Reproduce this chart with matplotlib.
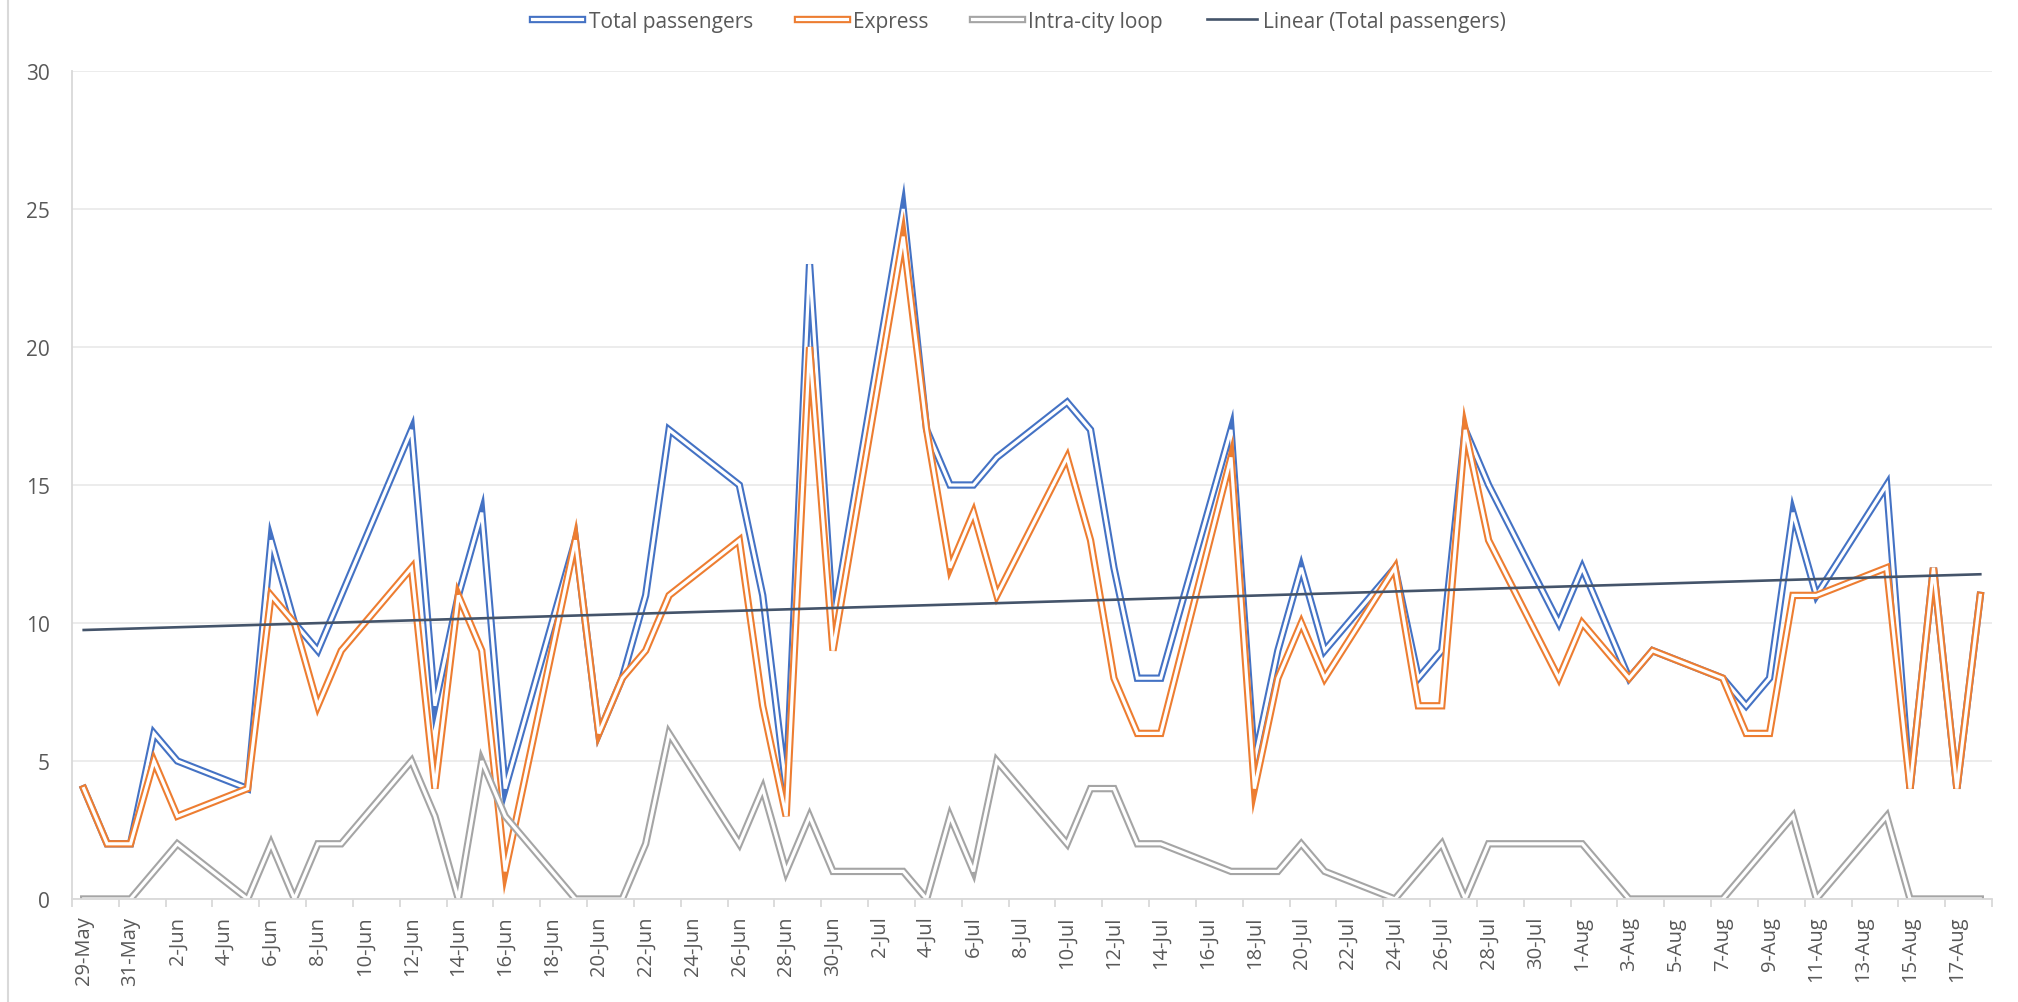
import matplotlib
matplotlib.use('Agg')
import matplotlib.pyplot as plt
import matplotlib.dates as mdates
import matplotlib.patheffects as pe
from matplotlib.lines import Line2D
from matplotlib.ticker import FuncFormatter
import numpy as np
import pandas as pd

# daily counts (weekdays only)
dates = ['2017-05-29', '2017-05-30', '2017-05-31', '2017-06-01', '2017-06-02',
         '2017-06-05', '2017-06-06', '2017-06-07', '2017-06-08', '2017-06-09',
         '2017-06-12', '2017-06-13', '2017-06-14', '2017-06-15', '2017-06-16',
         '2017-06-19', '2017-06-20', '2017-06-21', '2017-06-22', '2017-06-23',
         '2017-06-26', '2017-06-27', '2017-06-28', '2017-06-29', '2017-06-30',
         '2017-07-03', '2017-07-04', '2017-07-05', '2017-07-06', '2017-07-07',
         '2017-07-10', '2017-07-11', '2017-07-12', '2017-07-13', '2017-07-14',
         '2017-07-17', '2017-07-18', '2017-07-19', '2017-07-20', '2017-07-21',
         '2017-07-24', '2017-07-25', '2017-07-26', '2017-07-27', '2017-07-28',
         '2017-07-31', '2017-08-01', '2017-08-03', '2017-08-04',
         '2017-08-07', '2017-08-08', '2017-08-09', '2017-08-10', '2017-08-11',
         '2017-08-14', '2017-08-15', '2017-08-16', '2017-08-17', '2017-08-18']

total = [4, 2, 2, 6, 5,
         4, 13, 10, 9, 11,
         17, 7, 11, 14, 4,
         13, 6, 8, 11, 17,
         15, 11, 4, 23, 10,
         25, 17, 15, 15, 16,
         18, 17, 12, 8, 8,
         17, 5, 9, 12, 9,
         12, 8, 9, 17, 15,
         10, 12, 8, 9,
         8, 7, 8, 14, 11,
         15, 4, 12, 4, 11]

express = [4, 2, 2, 5, 3,
           4, 11, 10, 7, 9,
           12, 4, 11, 9, 1,
           13, 6, 8, 9, 11,
           13, 7, 3, 20, 9,
           24, 17, 12, 14, 11,
           16, 13, 8, 6, 6,
           16, 4, 8, 10, 8,
           12, 7, 7, 17, 13,
           8, 10, 8, 9,
           8, 6, 6, 11, 11,
           12, 4, 12, 4, 11]

intra = [0, 0, 0, 1, 2,
         0, 2, 0, 2, 2,
         5, 3, 0, 5, 3,
         0, 0, 0, 2, 6,
         2, 4, 1, 3, 1,
         1, 0, 3, 1, 5,
         2, 4, 4, 2, 2,
         1, 1, 1, 2, 1,
         0, 1, 2, 0, 2,
         2, 2, 0, 0,
         0, 1, 2, 3, 0,
         3, 0, 0, 0, 0]

series = [('Total passengers', total, '#4472C4'),
          ('Express', express, '#ED7D31'),
          ('Intra-city loop', intra, '#A5A5A5')]

plt.rcParams['font.family'] = ['Open Sans', 'DejaVu Sans']
txt = '#595959'
light = '#D9D9D9'

x = mdates.date2num(pd.to_datetime(dates))

fig = plt.figure(figsize=(20.18, 10.03), dpi=100)
ax = fig.add_axes([72 / 2018, 1 - 900 / 1003, 1920 / 2018, 828 / 1003])

# double (compound) lines like Excel
for name, vals, col in series:
    ax.plot(x, vals, color=col, lw=5.3, label=name, solid_joinstyle='miter',
            path_effects=[pe.Stroke(linewidth=5.3, foreground=col),
                          pe.Stroke(linewidth=2.3, foreground='white')])

# linear trendline
coef = np.polyfit(x, total, 1)
xt = np.array([x[0], x[-1]])
ax.plot(xt, np.polyval(coef, xt), color='#44546A', lw=1.9,
        label='Linear (Total passengers)')

ax.set_ylim(0, 30)
ax.set_yticks(range(0, 31, 5))
ax.set_xlim(x[0] - 0.5, x[-1] + 0.5)
ax.set_xticks(np.arange(x[0], x[-1] + 0.01, 2))
ax.set_xticks(np.arange(x[0] - 0.5, x[-1] + 0.6, 2), minor=True)


def fmt(v, pos):
    d = mdates.num2date(v)
    return f"{d.day}-{d.strftime('%b')}"


ax.xaxis.set_major_formatter(FuncFormatter(fmt))
ax.tick_params(axis='x', which='major', length=0, pad=12, labelsize=14.5,
               labelcolor=txt, labelrotation=90)
ax.tick_params(axis='x', which='minor', length=6, width=1.3, color=light)
ax.tick_params(axis='y', length=0, pad=16, labelsize=15, labelcolor=txt)

ax.yaxis.grid(True, color='#EBEBEB', lw=1.3)
ax.set_axisbelow(True)
for s in ['top', 'right']:
    ax.spines[s].set_visible(False)
for s in ['left', 'bottom']:
    ax.spines[s].set_color(light)
    ax.spines[s].set_linewidth(1.3)

ax.legend(loc='center', bbox_to_anchor=(0.505, 0.978), bbox_transform=fig.transFigure,
          ncol=4, frameon=False, fontsize=15, handlelength=2.4, handletextpad=0.3,
          columnspacing=2.1, labelcolor=txt)

# chart border on the left
fig.add_artist(Line2D([7.5 / 2018, 7.5 / 2018], [0, 1], color=light, lw=1.5))

fig.savefig('out.png', dpi=100)
